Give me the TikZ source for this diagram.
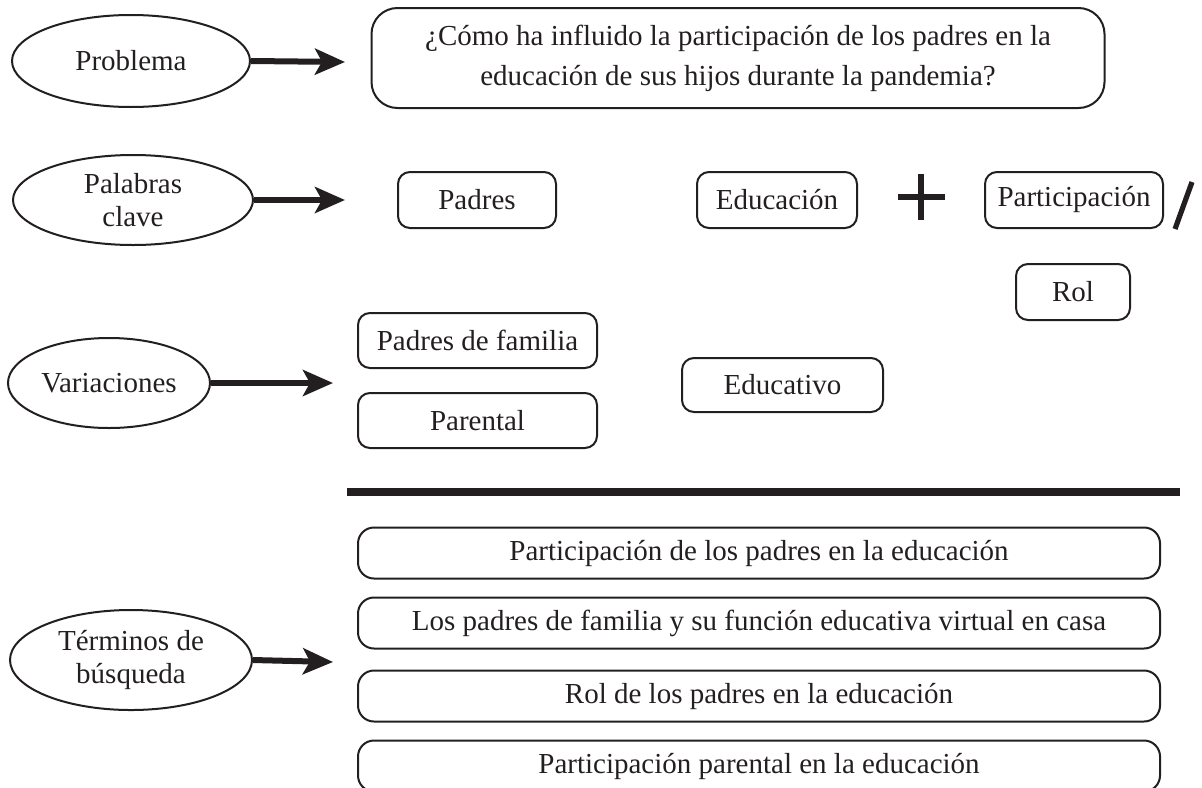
\documentclass[tikz,border=0pt]{standalone}
\usepackage{fontspec}
\setmainfont{Liberation Serif}
\usetikzlibrary{shapes.geometric,arrows.meta}
\definecolor{ink}{HTML}{231F20}

\begin{document}
\begin{tikzpicture}[x=0.5pt,y=-0.5pt,
    every node/.style={text=ink,font=\fontsize{14.5}{16.5}\selectfont},
    ovalo/.style={draw=ink,line width=1pt,ellipse,inner sep=0pt,align=center},
    caja/.style={draw=ink,line width=1pt,rounded corners=6pt,inner sep=1pt,align=center},
    flecha/.style={draw=ink,line width=3pt,-{Stealth[length=15pt,width=13pt,inset=3.5pt]}}]
  \useasboundingbox (0,0) rectangle (1202,787);

  % ovalos de la izquierda
  \node[ovalo,minimum width=119pt,minimum height=46pt] (prob) at (131,61) {Problema};
  \node[ovalo,minimum width=120pt,minimum height=45pt] (pal) at (133,200) {Palabras\\clave};
  \node[ovalo,minimum width=101pt,minimum height=45pt] (var) at (109,383) {Variaciones};
  \node[ovalo,minimum width=121pt,minimum height=50pt] (term) at (131,660) {T\'erminos de\\b\'usqueda};

  % puntas de las flechas
  \coordinate (probfin) at (345,62);
  \coordinate (palfin) at (345,200);
  \coordinate (varfin) at (333,383);
  \coordinate (termfin) at (333,662);
  \draw[flecha] (prob.east) -- (probfin);
  \draw[flecha] (pal.east) -- (palfin);
  \draw[flecha] (var.east) -- (varfin);
  \draw[flecha] (term.east) -- (termfin);

  % pregunta
  \node[caja,rounded corners=13pt,minimum width=366.5pt,minimum height=50pt,
    font=\fontsize{14.5}{20}\selectfont] (preg) at (738,58)
    {¿Cómo ha influido la participación de los padres en la\\educación de sus hijos durante la pandemia?};

  % palabras clave
  \node[caja,minimum width=79pt,minimum height=28pt] (padres) at (477,200) {Padres};
  \node[caja,minimum width=80pt,minimum height=28pt] (educ) at (777,200) {Educación};
  \node[caja,minimum width=89pt,minimum height=28pt] (part) at (1074,200) {Participación};
  \node[caja,minimum width=57pt,minimum height=28pt] (rol) at (1073,292) {Rol};
  \draw[ink,line width=2.6pt] (898,197) -- (945,197) (921,174) -- (921,220);
  \draw[ink,line width=2.6pt] (1175,229) -- (1192,182);

  % variaciones
  \node[caja,minimum width=119.5pt,minimum height=27.5pt] (padfam) at (477.5,340.5) {Padres de familia};
  \node[caja,minimum width=119.5pt,minimum height=27.5pt] (parental) at (477.5,420.5) {Parental};
  \node[caja,minimum width=100.5pt,minimum height=27pt] (educativo) at (782.5,385) {Educativo};

  % terminos de busqueda
  \draw[ink,line width=4pt] (347,492) -- (1180,492);
  \foreach \t/\y [count=\n] in {Participación de los padres en la educación/553,
      Los padres de familia y su función educativa virtual en casa/623,
      Rol de los padres en la educación/696,
      Participación parental en la educación/766}{
    \node[caja,rounded corners=8pt,minimum width=401pt,minimum height=25.5pt] (busq\n) at (759,\y) {\t};}
\end{tikzpicture}
\end{document}
